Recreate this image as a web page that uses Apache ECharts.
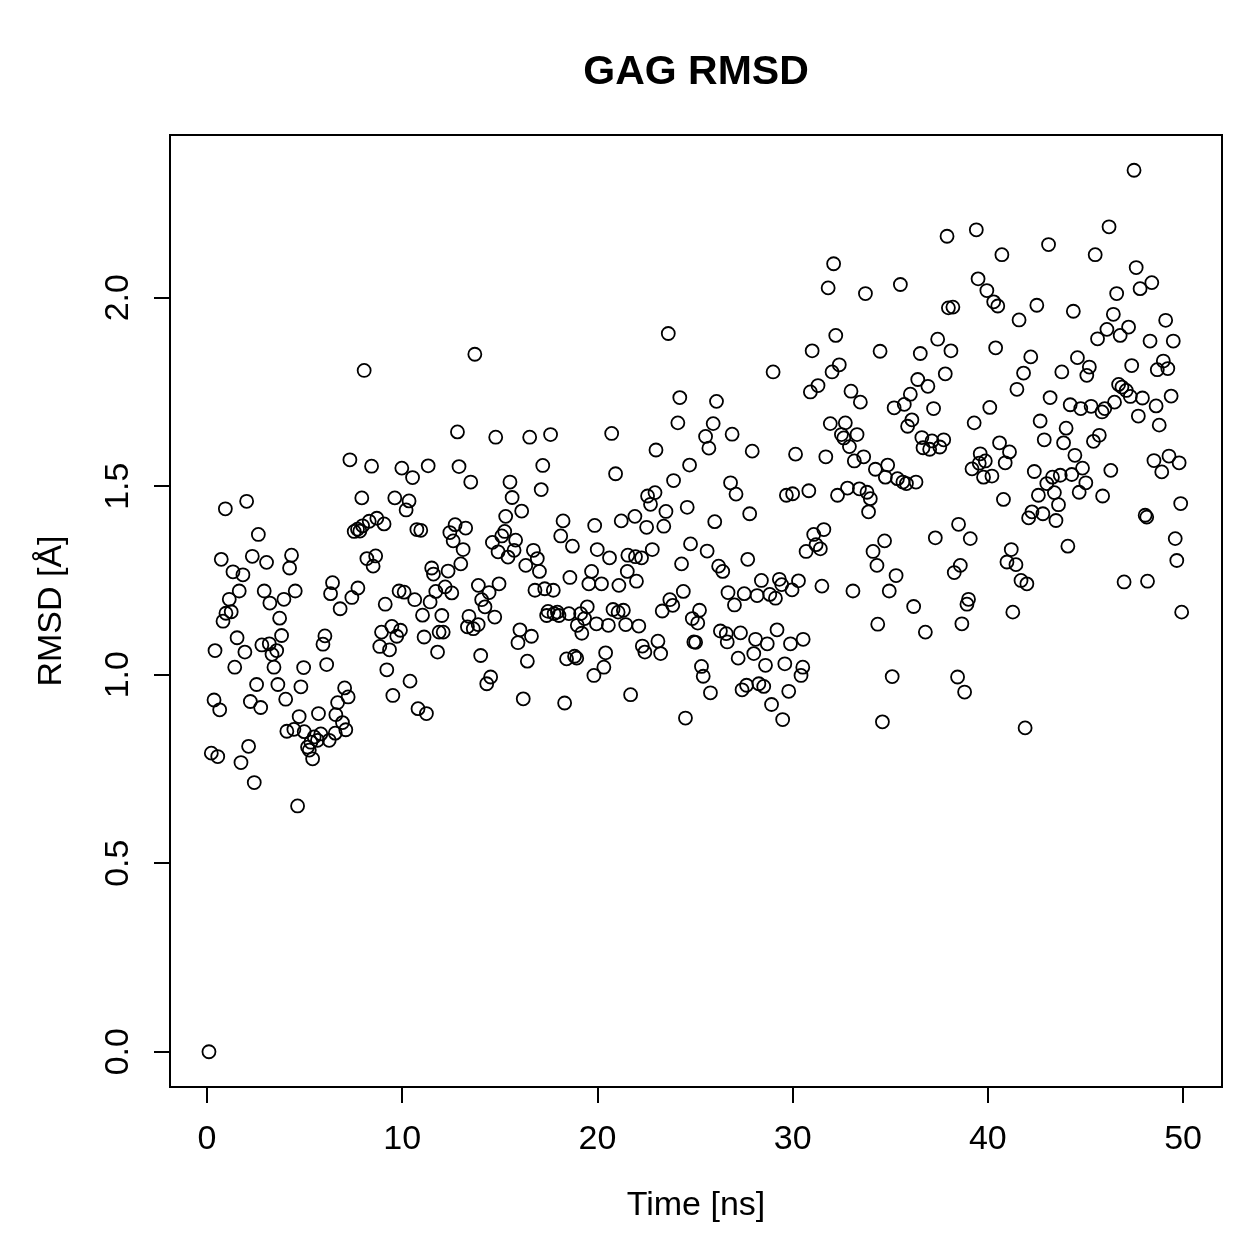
<!DOCTYPE html>
<html>
<head>
<meta charset="utf-8">
<script src="https://cdn.jsdelivr.net/npm/echarts@6/dist/echarts.min.js"></script>
<style>
  html, body { margin: 0; padding: 0; background: #fff; }
  #chart { width: 1259px; height: 1259px; }
</style>
</head>
<body>
<div id="chart"></div>
<script>
// 时间 (ns)
var time = [
  0.1, 0.22, 0.36, 0.41, 0.55, 0.65, 0.73, 0.82, 0.94, 0.97, 1.14, 1.24, 1.33, 1.42, 1.54, 1.65, 1.74, 1.84, 1.94, 2.03,
  2.13, 2.22, 2.32, 2.42, 2.54, 2.63, 2.75, 2.81, 2.93, 3.05, 3.19, 3.22, 3.33, 3.43, 3.57, 3.63, 3.72, 3.82, 3.94, 4.03,
  4.09, 4.23, 4.33, 4.45, 4.52, 4.64, 4.72, 4.81, 4.95, 4.98,
  5.15, 5.24, 5.32, 5.41, 5.49, 5.66, 5.71, 5.83, 5.94, 6.04, 6.13, 6.26, 6.33, 6.43, 6.57, 6.6, 6.69, 6.82, 6.94, 7.05,
  7.11, 7.23, 7.32, 7.42, 7.54, 7.71, 7.73, 7.83, 7.93, 7.97, 8.05, 8.19, 8.31, 8.43, 8.51, 8.64, 8.7, 8.85, 8.94, 9.07,
  9.13, 9.21, 9.35, 9.47, 9.52, 9.62, 9.72, 9.84, 9.91, 9.98,
  10.1, 10.2, 10.35, 10.4, 10.53, 10.64, 10.75, 10.81, 10.95, 11.04, 11.12, 11.24, 11.33, 11.43, 11.51, 11.6, 11.72, 11.81, 11.89, 12.03,
  12.1, 12.2, 12.35, 12.44, 12.54, 12.61, 12.71, 12.83, 12.91, 13.0, 13.12, 13.25, 13.34, 13.42, 13.51, 13.64, 13.72, 13.89, 13.9, 14.02,
  14.07, 14.24, 14.33, 14.45, 14.53, 14.62, 14.74, 14.79, 14.91, 14.96,
  15.1, 15.25, 15.3, 15.42, 15.52, 15.63, 15.73, 15.81, 15.93, 16.03, 16.12, 16.2, 16.33, 16.41, 16.53, 16.62, 16.72, 16.8, 16.92, 17.03,
  17.12, 17.2, 17.3, 17.4, 17.47, 17.6, 17.74, 17.78, 17.95, 18.03, 18.12, 18.24, 18.32, 18.42, 18.54, 18.59, 18.72, 18.83, 18.94, 18.97,
  19.14, 19.2, 19.34, 19.48, 19.56, 19.7, 19.82, 19.86, 19.95, 19.99,
  20.21, 20.33, 20.42, 20.56, 20.62, 20.73, 20.8, 20.93, 21.06, 21.1, 21.22, 21.33, 21.45, 21.53, 21.56, 21.7, 21.92, 21.95, 22.0, 22.12,
  22.26, 22.3, 22.43, 22.52, 22.57, 22.72, 22.81, 22.95, 23.0, 23.1, 23.24, 23.32, 23.4, 23.51, 23.63, 23.71, 23.86, 23.9, 24.12, 24.22,
  24.31, 24.4, 24.51, 24.6, 24.72, 24.77, 24.86, 24.94,
  25.03, 25.14, 25.23, 25.33, 25.42, 25.54, 25.62, 25.71, 25.79, 25.93, 26.01, 26.1, 26.21, 26.3, 26.42, 26.6, 26.65, 26.69, 26.82, 26.9,
  27.02, 27.1, 27.21, 27.33, 27.41, 27.52, 27.64, 27.7, 27.8, 27.93, 28.01, 28.1, 28.18, 28.27, 28.4, 28.52, 28.61, 28.7, 28.83, 28.92,
  29.0, 29.12, 29.2, 29.32, 29.44, 29.49, 29.6, 29.68, 29.8, 29.89, 29.97, 30.0,
  30.15, 30.3, 30.43, 30.52, 30.54, 30.69, 30.83, 30.91, 31.0, 31.08, 31.2, 31.3, 31.42, 31.5, 31.6, 31.7, 31.82, 31.93, 32.02, 32.1,
  32.21, 32.3, 32.39, 32.5, 32.62, 32.7, 32.81, 32.91, 32.99, 33.09, 33.16, 33.3, 33.42, 33.47, 33.64, 33.73, 33.81, 33.89, 33.98, 34.12,
  34.24, 34.32, 34.36, 34.48, 34.6, 34.71, 34.75, 34.87, 34.95,
  35.1, 35.2, 35.3, 35.37, 35.52, 35.65, 35.72, 35.83, 35.89, 36.03, 36.11, 36.2, 36.32, 36.41, 36.54, 36.62, 36.68, 36.8, 36.93, 37.02,
  37.14, 37.22, 37.31, 37.43, 37.54, 37.74, 37.82, 37.91, 37.98, 38.11, 38.21, 38.28, 38.45, 38.5, 38.59, 38.67, 38.81, 38.93, 39.01, 39.1,
  39.19, 39.3, 39.41, 39.5, 39.56, 39.61, 39.78, 39.87, 39.95,
  40.1, 40.21, 40.3, 40.4, 40.51, 40.6, 40.72, 40.8, 40.89, 40.98, 41.11, 41.2, 41.28, 41.44, 41.49, 41.6, 41.7, 41.83, 41.91, 42.0,
  42.09, 42.2, 42.26, 42.38, 42.51, 42.59, 42.68, 42.82, 42.89, 43.02, 43.11, 43.19, 43.31, 43.41, 43.49, 43.62, 43.71, 43.79, 43.88, 44.01,
  44.1, 44.22, 44.3, 44.38, 44.46, 44.59, 44.68, 44.76, 44.85,
  45.02, 45.07, 45.2, 45.29, 45.41, 45.5, 45.62, 45.71, 45.85, 45.88, 45.99, 46.1, 46.21, 46.3, 46.43, 46.49, 46.6, 46.7, 46.78, 46.87,
  46.98, 47.09, 47.21, 47.3, 47.37, 47.49, 47.6, 47.71, 47.8, 47.92, 48.06, 48.14, 48.18, 48.31, 48.4, 48.51, 48.62, 48.68, 48.78, 48.91,
  48.99, 49.11, 49.22, 49.28, 49.39, 49.5, 49.6, 49.68, 49.8, 49.88, 49.93
];
// RMSD (Å)
var rmsd = [
  0.0, 0.792, 0.933, 1.064, 0.783, 0.907, 1.306, 1.142, 1.44, 1.163, 1.2, 1.167, 1.273, 1.02, 1.098, 1.222, 0.767, 1.265, 1.06, 1.46,
  0.81, 0.929, 1.314, 0.714, 0.974, 1.372, 0.913, 1.079, 1.222, 1.298, 1.082, 1.19, 1.054, 1.02, 1.064, 0.974, 1.15, 1.104, 1.2, 0.935,
  0.85, 1.283, 1.317, 0.855, 1.222, 0.652, 0.889, 0.968, 1.019, 0.849,
  0.808, 0.8, 0.821, 0.777, 0.835, 0.826, 0.897, 0.843, 1.081, 1.103, 1.027, 0.826, 1.215, 1.244, 0.845, 0.894, 0.926, 1.175, 0.873, 0.965,
  0.854, 0.941, 1.57, 1.205, 1.38, 1.386, 1.23, 1.381, 1.469, 1.395, 1.807, 1.308, 1.407, 1.553, 1.288, 1.315, 1.415, 1.075, 1.113, 1.4,
  1.187, 1.013, 1.066, 1.128, 0.945, 1.469, 1.102, 1.222, 1.118, 1.548,
  1.219, 1.437, 1.461, 0.983, 1.523, 1.199, 1.385, 0.91, 1.383, 1.158, 1.1, 0.897, 1.554, 1.193, 1.283, 1.267, 1.221, 1.06, 1.113, 1.157,
  1.113, 1.233, 1.275, 1.377, 1.217, 1.355, 1.398, 1.644, 1.552, 1.294, 1.332, 1.389, 1.127, 1.155, 1.511, 1.122, 1.85, 1.133, 1.237, 1.051,
  1.199, 1.18, 0.976, 1.218, 0.994, 1.351, 1.153, 1.63, 1.326, 1.241,
  1.368, 1.38, 1.42, 1.312, 1.511, 1.47, 1.33, 1.357, 1.085, 1.119, 1.434, 0.936, 1.29, 1.036, 1.63, 1.102, 1.33, 1.224, 1.308, 1.274,
  1.491, 1.555, 1.228, 1.157, 1.168, 1.637, 1.224, 1.162, 1.166, 1.157, 1.368, 1.408, 0.925, 1.042, 1.162, 1.258, 1.341, 1.049, 1.044, 1.131,
  1.162, 1.11, 1.149, 1.18, 1.241, 1.274, 0.998, 1.396, 1.135, 1.332,
  1.241, 1.02, 1.058, 1.131, 1.31, 1.64, 1.173, 1.533, 1.166, 1.237, 1.408, 1.171, 1.133, 1.274, 1.317, 0.947, 1.42, 1.313, 1.248, 1.129,
  1.31, 1.076, 1.06, 1.391, 1.474, 1.452, 1.332, 1.483, 1.596, 1.089, 1.056, 1.169, 1.394, 1.433, 1.905, 1.199, 1.184, 1.515, 1.668, 1.735,
  1.294, 1.221, 0.885, 1.444, 1.556, 1.347, 1.149, 1.087,
  1.086, 1.137, 1.171, 1.022, 0.996, 1.632, 1.328, 1.601, 0.952, 1.666, 1.406, 1.725, 1.288, 1.116, 1.274, 1.109, 1.087, 1.218, 1.509, 1.638,
  1.185, 1.479, 1.044, 1.111, 0.96, 1.215, 0.972, 1.306, 1.427, 1.593, 1.056, 1.094, 1.21, 0.976, 1.25, 0.969, 1.025, 1.082, 1.213, 0.921,
  1.803, 1.203, 1.119, 1.253, 1.239, 0.881, 1.029, 1.476, 0.956, 1.082, 1.225, 1.48,
  1.585, 1.249, 0.998, 1.02, 1.094, 1.327, 1.488, 1.75, 1.859, 1.372, 1.345, 1.767, 1.334, 1.235, 1.385, 1.578, 2.026, 1.666, 1.803, 2.09,
  1.9, 1.476, 1.822, 1.637, 1.628, 1.668, 1.495, 1.605, 1.752, 1.222, 1.567, 1.637, 1.493, 1.723, 1.578, 2.011, 1.484, 1.432, 1.467, 1.327,
  1.545, 1.29, 1.134, 1.858, 0.875, 1.355, 1.524, 1.556, 1.222,
  0.995, 1.708, 1.263, 1.52, 2.035, 1.511, 1.717, 1.507, 1.659, 1.744, 1.676, 1.181, 1.511, 1.783, 1.852, 1.629, 1.602, 1.113, 1.765, 1.598,
  1.62, 1.706, 1.363, 1.89, 1.604, 1.623, 1.798, 2.163, 1.973, 1.859, 1.975, 1.271, 0.994, 1.399, 1.29, 1.135, 0.954, 1.187, 1.2, 1.361,
  1.546, 1.668, 2.18, 2.05, 1.561, 1.586, 1.524, 1.567, 2.019,
  1.709, 1.527, 1.989, 1.867, 1.978, 1.615, 2.114, 1.465, 1.562, 1.299, 1.591, 1.332, 1.166, 1.292, 1.757, 1.941, 1.25, 1.8, 0.859, 1.241,
  1.416, 1.843, 1.432, 1.539, 1.98, 1.476, 1.673, 1.427, 1.623, 1.507, 2.141, 1.735, 1.524, 1.483, 1.409, 1.451, 1.529, 1.803, 1.615, 1.654,
  1.341, 1.716, 1.531, 1.964, 1.582, 1.841, 1.484, 1.706, 1.548,
  1.509, 1.794, 1.816, 1.712, 1.619, 2.114, 1.891, 1.635, 1.697, 1.474, 1.706, 1.916, 2.188, 1.542, 1.956, 1.723, 2.011, 1.77, 1.9, 1.763,
  1.246, 1.754, 1.922, 1.738, 1.82, 2.338, 2.08, 1.686, 2.024, 1.734, 1.423, 1.418, 1.248, 1.885, 2.04, 1.568, 1.713, 1.809, 1.662, 1.538,
  1.832, 1.94, 1.812, 1.58, 1.739, 1.885, 1.361, 1.303, 1.562, 1.454, 1.166
];
var xTicks = [0, 10, 20, 30, 40, 50];
var yTicks = [0, 0.5, 1.0, 1.5, 2.0];

// R 默认的坐标范围：数据范围两边各延伸 4%
var xLo = 0.1, xHi = 50;
var yLo = 0, yHi = Math.max.apply(null, rmsd);
var xPad = (xHi - xLo) * 0.04, yPad = (yHi - yLo) * 0.04;

var points = [];
for (var i = 0; i < time.length; i++) {
  points.push([time[i], rmsd[i]]);
}

var font = 'Liberation Sans, Arial, Helvetica, sans-serif';
var myChart = echarts.init(document.getElementById('chart'));
var option = {
  backgroundColor: '#fff',
  animation: false,
  title: {
    text: 'GAG RMSD',
    left: 691,
    top: 47,
    textAlign: 'center',
    textStyle: { fontFamily: font, fontSize: 41, fontWeight: 'bold', color: '#000' }
  },
  grid: {
    left: 170, top: 135, width: 1052, height: 952,
    show: true, borderColor: '#000', borderWidth: 2, backgroundColor: 'transparent'
  },
  xAxis: {
    type: 'value',
    min: xLo - xPad,
    max: xHi + xPad,
    name: 'Time [ns]',
    nameLocation: 'middle',
    nameGap: 102,
    nameTextStyle: { fontFamily: font, fontSize: 34, color: '#000' },
    splitLine: { show: false },
    axisLine: { show: false, onZero: false },
    axisTick: { show: true, length: 16, lineStyle: { color: '#000', width: 2 }, customValues: xTicks },
    axisLabel: {
      fontFamily: font, fontSize: 34, color: '#000', margin: 36,
      customValues: xTicks,
      formatter: function (v) { return String(v); }
    }
  },
  yAxis: {
    type: 'value',
    min: yLo - yPad,
    max: yHi + yPad,
    name: 'RMSD [Å]',
    nameLocation: 'middle',
    nameGap: 101,
    nameTextStyle: { fontFamily: font, fontSize: 34, color: '#000' },
    splitLine: { show: false },
    axisLine: { show: false, onZero: false },
    axisTick: { show: true, length: 16, lineStyle: { color: '#000', width: 2 }, customValues: yTicks },
    axisLabel: {
      fontFamily: font, fontSize: 34, color: '#000', margin: 34, rotate: 90,
      customValues: yTicks,
      formatter: function (v) { return v.toFixed(1); }
    }
  },
  series: [{
    type: 'scatter',
    data: points,
    symbol: 'circle',
    symbolSize: 13,
    itemStyle: { color: 'rgba(0,0,0,0)', borderColor: '#000', borderWidth: 1.8, opacity: 1 },
    emphasis: { disabled: true },
    silent: true
  }]
};
myChart.setOption(option);
</script>
</body>
</html>
